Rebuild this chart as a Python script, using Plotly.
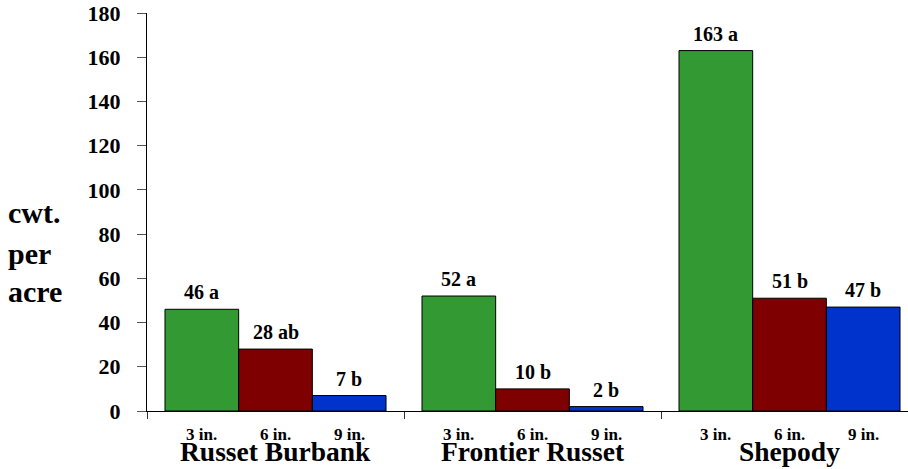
import plotly.graph_objects as go

# Yield by cultivar and seed-piece depth
cultivars = ["Russet Burbank", "Frontier Russet", "Shepody"]
depths = ["3 in.", "6 in.", "9 in."]
yield_3in = [46, 52, 163]
yield_6in = [28, 10, 51]
yield_9in = [7, 2, 47]
letters_3in = ["a", "a", "a"]
letters_6in = ["ab", "b", "b"]
letters_9in = ["b", "b", "b"]
colors = ["#339933", "#7f0000", "#0033cc"]
y_title = ["cwt.", "per", "acre"]

series = [yield_3in, yield_6in, yield_9in]
letters = [letters_3in, letters_6in, letters_9in]

FONT = "'Times New Roman', 'Liberation Serif', Tinos, 'DejaVu Serif', serif"
BARGAP = 0.14
x_idx = list(range(len(cultivars)))


def bold(size):
    return dict(family=FONT, size=size, color="black", weight="bold")


fig = go.Figure()
for vals, col, name in zip(series, colors, depths):
    fig.add_trace(go.Bar(
        x=x_idx, y=vals, name=name,
        marker=dict(color=col, line=dict(color="black", width=1)),
        showlegend=False,
    ))

bar_w = (1 - BARGAP) / len(series)
annotations = []
for k, (vals, labs, dname) in enumerate(zip(series, letters, depths)):
    for i, (v, lab) in enumerate(zip(vals, labs)):
        cx = i + (k - 1) * bar_w
        # value + significance letter above each bar
        annotations.append(dict(
            x=cx, y=v, xref="x", yref="y", text=f"{v} {lab}",
            showarrow=False, yanchor="bottom", yshift=4, font=bold(20),
        ))
        # depth label under each bar
        annotations.append(dict(
            x=cx, y=0, xref="x", yref="paper", text=dname,
            showarrow=False, yanchor="top", yshift=-12, font=bold(17),
        ))

# cultivar names, anchored at their bottom edge near the figure foot
for i, c in enumerate(cultivars):
    annotations.append(dict(
        x=i, y=0, xref="x", yref="paper", text=c,
        showarrow=False, yanchor="bottom", yshift=-58, font=bold(27.5),
    ))

# stacked axis title, one word per line
for word, ypos in zip(y_title, [0.4975, 0.3945, 0.299]):
    annotations.append(dict(
        x=-0.185, y=ypos, xref="paper", yref="paper", text=word,
        showarrow=False, xanchor="left", yanchor="middle", font=bold(30),
    ))

fig.update_layout(
    width=908, height=469,
    margin=dict(l=147, r=0, t=13, b=58),
    plot_bgcolor="white", paper_bgcolor="white",
    barmode="group", bargap=BARGAP, bargroupgap=0,
    annotations=annotations,
    xaxis=dict(
        range=[-0.5, 2.461],
        tickvals=[-0.5, 0.5, 1.5], ticktext=["", "", ""],
        ticks="outside", ticklen=7, tickcolor="#333", tickwidth=1,
        showline=True, linecolor="black", linewidth=1,
        showgrid=False, zeroline=False,
    ),
    yaxis=dict(
        range=[0, 180], tickvals=list(range(0, 181, 20)),
        ticks="outside", ticklen=9, tickcolor="#555", tickwidth=1,
        ticklabelstandoff=12,
        showline=True, linecolor="black", linewidth=1,
        showgrid=False, zeroline=False,
        tickfont=bold(22),
    ),
)

fig.write_html("out.html")
